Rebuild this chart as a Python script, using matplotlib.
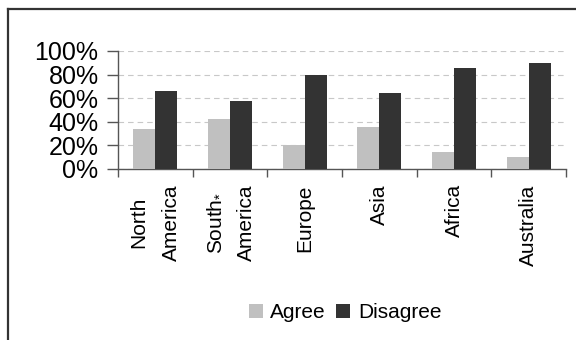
import matplotlib
matplotlib.use("Agg")
import matplotlib.pyplot as plt
from matplotlib.lines import Line2D
from matplotlib.patches import Patch
import numpy as np

plt.rcParams['font.family'] = ['Liberation Sans', 'DejaVu Sans']
plt.rcParams['mathtext.fontset'] = 'custom'
plt.rcParams['mathtext.rm'] = 'Liberation Sans'
plt.rcParams['mathtext.it'] = 'Liberation Sans'
plt.rcParams['mathtext.bf'] = 'Liberation Sans'

categories = ["North\nAmerica", "South$_{*}$\nAmerica", "Europe", "Asia", "Africa", "Australia"]
agree = [34, 42, 20, 36, 14, 10]
disagree = [66, 58, 80, 64, 86, 90]
y_ticks = [0, 20, 40, 60, 80, 100]
y_tick_labels = ["0%", "20%", "40%", "60%", "80%", "100%"]
series_names = ["Agree", "Disagree"]
colors = ["#C0C0C0", "#333333"]

W, H = 576, 340
fig = plt.figure(figsize=(W / 100, H / 100), dpi=100)
ax = fig.add_axes([118 / W, 1 - 169 / H, (566 - 118) / W, (169 - 51) / H])

x = np.arange(len(categories))
bw = 0.295
ax.bar(x - bw / 2, agree, width=bw, color=colors[0], zorder=3)
ax.bar(x + bw / 2, disagree, width=bw, color=colors[1], zorder=3)

ax.set_xlim(-0.5, len(categories) - 0.5)
ax.set_ylim(0, 100)

# y axis
ax.set_yticks(y_ticks)
ax.set_yticklabels(y_tick_labels, fontsize=18)
ax.tick_params(axis='y', length=8, width=1, color='#555555', pad=6)
ax.yaxis.grid(True, color='#C8C8C8', linewidth=0.8, dashes=(5, 3.6), zorder=0)

# x axis: ticks at category boundaries, labels at centres
ax.set_xticks(np.arange(len(categories) + 1) - 0.5)
ax.set_xticklabels([])
ax.set_xticks(x, minor=True)
ax.set_xticklabels(categories, minor=True, rotation=90, fontsize=15,
                   va='top', ha='center', multialignment='center', linespacing=1.9)
ax.tick_params(axis='x', which='major', length=6, width=1, color='#555555')
ax.tick_params(axis='x', which='minor', length=0, pad=11)

for s in ['top', 'right']:
    ax.spines[s].set_visible(False)
for s in ['left', 'bottom']:
    ax.spines[s].set_color('#555555')
    ax.spines[s].set_linewidth(1)

# legend
handles = [Patch(facecolor=c, edgecolor='none') for c in colors]
fig.legend(handles, series_names, loc='center', bbox_to_anchor=(345 / W, 1 - 313 / H),
           ncol=2, frameon=False, fontsize=15, handlelength=0.67, handleheight=0.67,
           handletextpad=0.38, columnspacing=0.48, borderpad=0)

# outer frame (top and left edges)
fig.add_artist(Line2D([8 / W, 1], [1 - 9 / H, 1 - 9 / H], transform=fig.transFigure,
                      color='#333333', linewidth=1.6))
fig.add_artist(Line2D([8 / W, 8 / W], [0, 1 - 9 / H], transform=fig.transFigure,
                      color='#333333', linewidth=1.6))

fig.savefig("out.png", dpi=100)
